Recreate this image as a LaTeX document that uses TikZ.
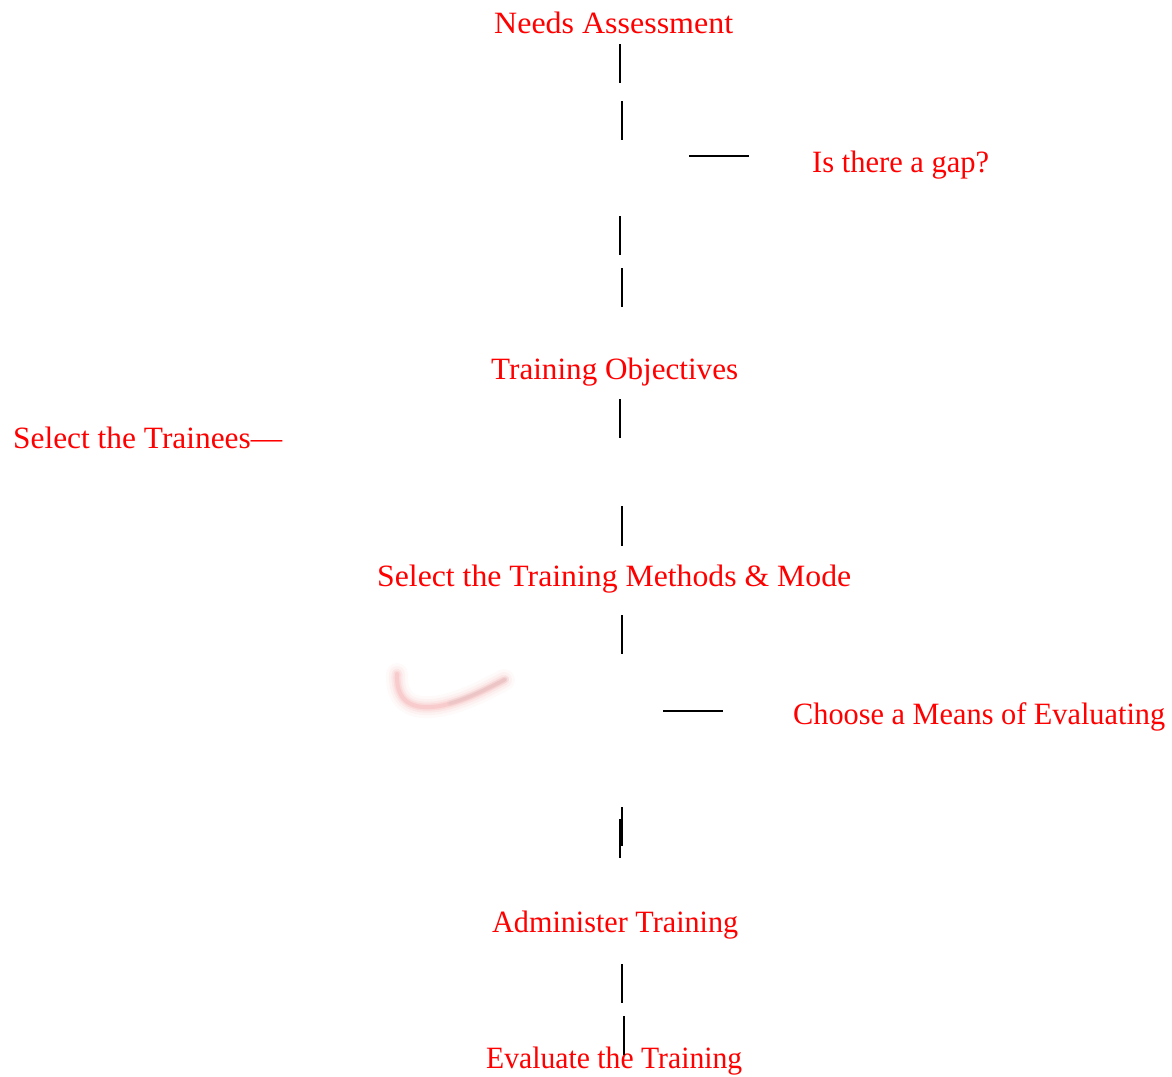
\documentclass[tikz,border=0pt]{standalone}
\usepackage{fontspec}
\usepackage{graphicx}
\setmainfont{Liberation Serif}
\definecolor{lbl}{RGB}{255,0,0}
\definecolor{swpink}{RGB}{240,150,150}
\definecolor{swgrey}{RGB}{210,185,190}
% a label stretched or narrowed to a given width, height kept
\newcommand{\fitlbl}[2]{\resizebox{#1pt}{\height}{#2}}
\begin{document}
\begin{tikzpicture}[x=1pt,y=-1pt,
  lab/.style={anchor=base west,inner sep=0pt,text=lbl,font=\fontsize{31}{36}\selectfont},
  tick/.style={draw=black,line width=1.7pt}]
\useasboundingbox (0,0) rectangle (1172,1076);

% step labels
\node[lab] (needs) at (494,33.5) {\fitlbl{239}{Needs Assessment}};
\node[lab] (gap) at (812,172) {\fitlbl{177}{Is there a gap?}};
\node[lab] (obj) at (491,379) {\fitlbl{247}{Training Objectives}};
\node[lab] (trainees) at (13,448) {\fitlbl{269}{Select the Trainees—}};
\node[lab] (methods) at (377,586) {\fitlbl{474}{Select the Training Methods \& Mode}};
\node[lab] (means) at (793,724) {\fitlbl{372}{Choose a Means of Evaluating}};
\node[lab] (admin) at (492,932) {\fitlbl{246}{Administer Training}};
\node[lab] (eval) at (486,1068) {\fitlbl{256}{Evaluate the Training}};

% faint swoosh mark
\foreach \w/\o in {22/0.05,16/0.08,11/0.12,7/0.16,4/0.2}{
  \draw[swpink,line width=\w pt,opacity=\o,line cap=round]
    (397,674) .. controls (396,700) and (410,711) .. (440,706)
    .. controls (465,701) and (485,690) .. (504,680);
}
\foreach \w/\o in {6/0.12,3/0.2}{
  \draw[swgrey,line width=\w pt,opacity=\o,line cap=round]
    (450,703) .. controls (470,697) and (488,688) .. (506,679);
}

% broken connector pieces
\coordinate (a1) at (620,44);   \coordinate (b1) at (620,83);
\coordinate (a2) at (622,101);  \coordinate (b2) at (622,140);
\coordinate (h1a) at (689,156); \coordinate (h1b) at (749,156);
\coordinate (a3) at (620,216);  \coordinate (b3) at (620,255);
\coordinate (a4) at (622,268);  \coordinate (b4) at (622,307);
\coordinate (a5) at (620,399);  \coordinate (b5) at (620,438);
\coordinate (a6) at (622,506);  \coordinate (b6) at (622,546);
\coordinate (a7) at (622,615);  \coordinate (b7) at (622,654);
\coordinate (h2a) at (663,711); \coordinate (h2b) at (723,711);
\coordinate (a8) at (622,807);  \coordinate (b8) at (622,846);
\coordinate (a9) at (620,819);  \coordinate (b9) at (620,858);
\coordinate (a10) at (622,964); \coordinate (b10) at (622,1003);
\coordinate (a11) at (624,1016);\coordinate (b11) at (624,1055);

\foreach \i in {1,...,11}{ \draw[tick] (a\i) -- (b\i); }
\draw[tick] (h1a) -- (h1b);
\draw[tick] (h2a) -- (h2b);
\end{tikzpicture}
\end{document}
